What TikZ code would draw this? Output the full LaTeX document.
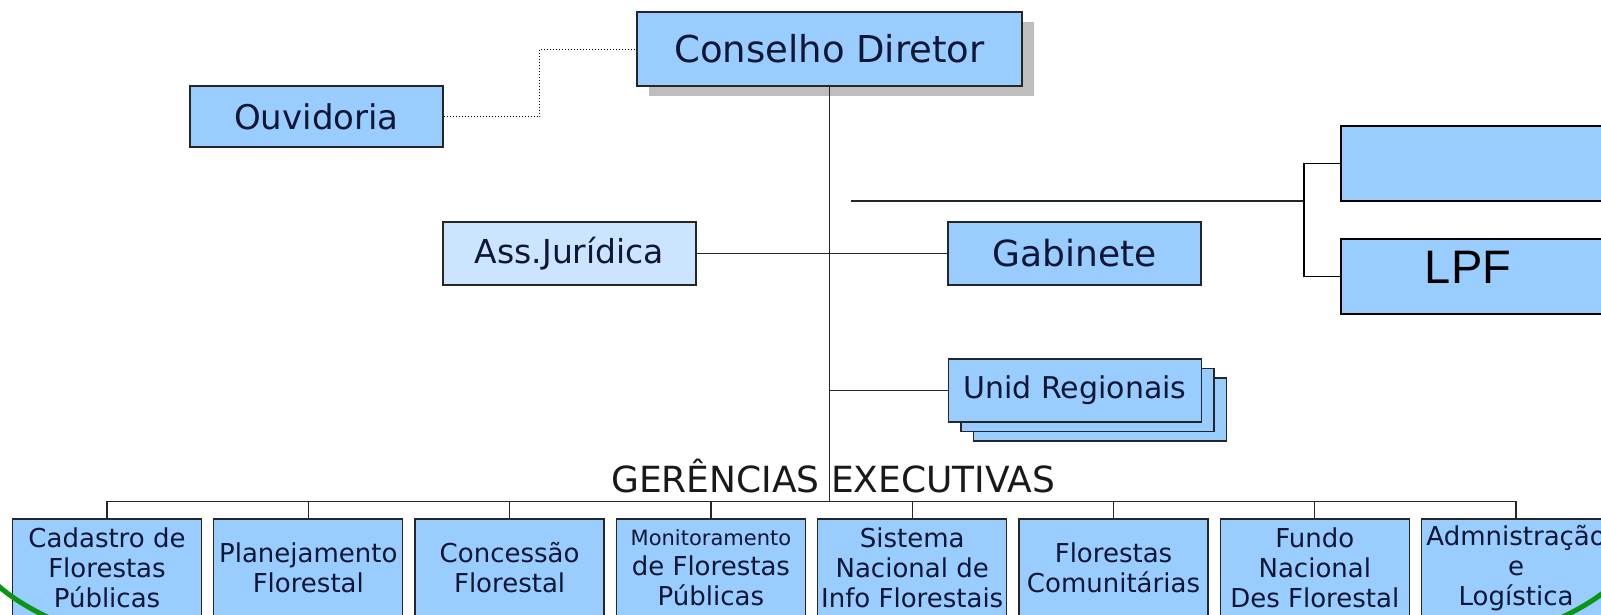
\documentclass[tikz,border=0pt]{standalone}
\usepackage{fontspec}
\setmainfont{DejaVu Sans}
\newfontfamily\lpffont{Liberation Sans}
\usetikzlibrary{shadows}
\definecolor{boxblue}{RGB}{153,204,255}
\definecolor{paleblue}{RGB}{204,229,255}
\definecolor{inknavy}{RGB}{16,22,52}
\definecolor{shadowgray}{RGB}{190,190,190}
\definecolor{arcgreen}{RGB}{10,150,20}

\begin{document}
\begin{tikzpicture}[x=1pt, y=-1pt,
  orgbox/.style={draw=black!85, line width=1.3pt, fill=boxblue, text=inknavy, inner sep=0pt, align=center},
  topbox/.style={orgbox, minimum width=253pt, minimum height=62pt, font=\fontsize{34}{40}\selectfont},
  gerbox/.style={orgbox, minimum width=189pt, minimum height=98pt, font=\fontsize{26}{30}\selectfont},
  wire/.style={line width=1.3pt, black!85}]

\fill[white] (0,0) rectangle (1601,614);
\useasboundingbox (0,0) rectangle (1601,614);
\clip (0,0) rectangle (1601,614);

% top of the chart
\node[topbox, minimum width=385pt, minimum height=74pt, font=\fontsize{37}{42}\selectfont,
  drop shadow={shadow xshift=12pt, shadow yshift=-10pt, fill=shadowgray, opacity=1}] (cons) at (829.5,49) {Conselho Diretor};
\node[topbox, minimum height=61pt] (ouv) at (316.5,116.5) {Ouvidoria};
\node[topbox, minimum height=63pt, fill=paleblue, font=\fontsize{33}{40}\selectfont] (jur) at (569.5,253.5) {Ass.Jurídica};
\node[topbox, minimum height=63pt, font=\fontsize{36}{40}\selectfont] (gab) at (1074.5,253.5) {Gabinete};

\node[topbox, minimum height=63pt] (unidback2) at (1100,409.5) {};
\node[topbox, minimum height=63pt] (unidback1) at (1087.5,400) {};
\node[topbox, minimum height=63pt, font=\fontsize{30}{36}\selectfont] (unid) at (1075,390.5) {Unid Regionais};

\node[orgbox, line width=1.6pt, draw=black, minimum width=319pt, minimum height=75pt] (pad) at (1500.5,163.5) {};
\node[orgbox, line width=1.6pt, draw=black, minimum width=319pt, minimum height=75pt] (lpf) at (1500.5,276.5) {};
\node[font=\lpffont\fontsize{47}{50}\selectfont, inner sep=0pt] (lpflabel) at (1468,267.5) {LPF};

% connectors
\coordinate (bus) at (831,502);
\coordinate (padfree) at (851,201);
\coordinate (fork) at (1304,201);

\draw[wire] (cons.south) -- (cons.south |- bus);
\draw[line width=1pt, dotted] (ouv.east) -- ++(96,0) |- (cons.west);
\draw[wire] (jur.east) -- (gab.west);
\draw[wire] (cons.south |- unid.west) -- (unid.west);
\draw[wire] (padfree) -- (fork);
\draw[wire, line width=1.6pt, black] (pad.west) -| (fork) |- (lpf.west);

% gerencias
\node[font=\fontsize{36}{40}\selectfont, text=black!90, anchor=base west, inner sep=0pt] (gertitle) at (611,492) {GERÊNCIAS EXECUTIVAS};

\node[gerbox] (g1) at (107,568) {Cadastro de\\Florestas\\Públicas};
\node[gerbox] (g2) at (308.3,568) {Planejamento\\Florestal};
\node[gerbox] (g3) at (509.6,568) {Concessão\\Florestal};
\node[gerbox] (g4) at (710.9,568) {{\fontsize{21}{30}\selectfont Monitoramento}\\de Florestas\\Públicas};
\node[gerbox] (g5) at (912.2,568) {Sistema\\Nacional de\\Info Florestais};
\node[gerbox] (g6) at (1113.5,568) {Florestas\\Comunitárias};
\node[gerbox] (g7) at (1314.8,568) {Fundo\\Nacional\\Des Florestal};
\node[gerbox] (g8) at (1516.1,568) {Admnistração\\e\\Logística};

\draw[wire] ([yshift=17pt]g1.north) -- ([yshift=17pt]g8.north);
\foreach \i in {1,...,8}
  \draw[wire] (g\i.north) -- ++(0,-17);

\draw[arcgreen, line width=5pt] (-25,543) arc[start angle=180, end angle=0, x radius=830, y radius=181];
\end{tikzpicture}
\end{document}
